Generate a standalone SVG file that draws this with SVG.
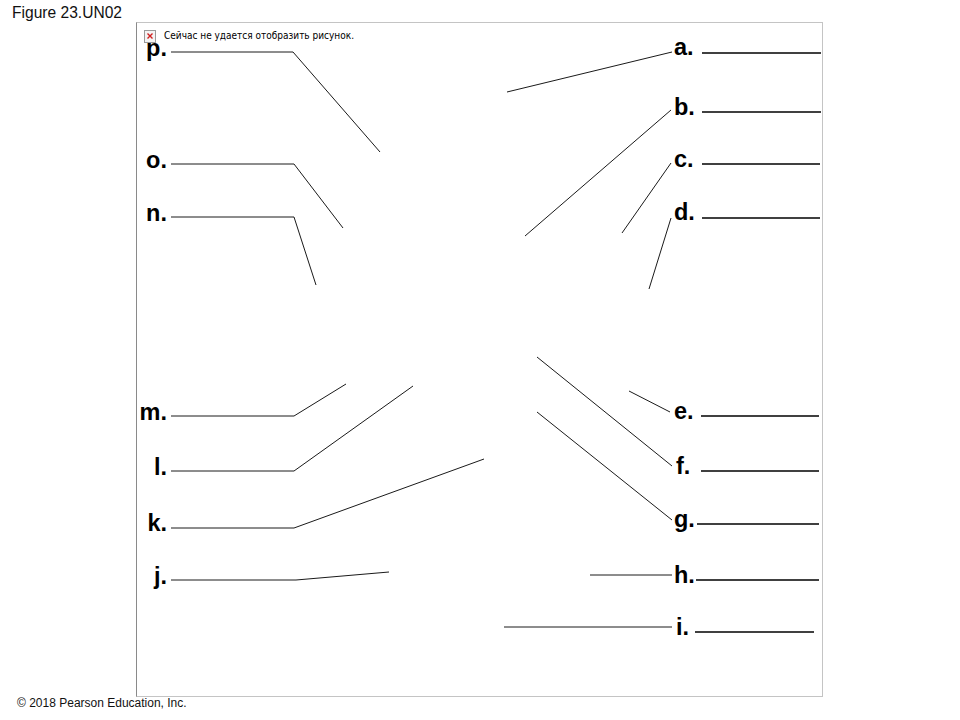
<svg xmlns="http://www.w3.org/2000/svg" width="960" height="720" viewBox="0 0 960 720">
<style>
.lbl{font-family:"Liberation Sans",Arial,sans-serif;font-weight:bold;font-size:23.5px;fill:#000}
.l{text-anchor:end}
.ul{stroke:#000;stroke-width:1.3;fill:none}
.ld{stroke:#1a1a1a;stroke-width:1;fill:none}
.cap{font-family:"Liberation Sans",Arial,sans-serif;fill:#111}
</style>
<rect width="960" height="720" fill="#fff"/>
<text class="cap" x="12" y="18" font-size="16" textLength="110" lengthAdjust="spacingAndGlyphs">Figure 23.UN02</text>
<text class="cap" x="17" y="707" font-size="12">© 2018 Pearson Education, Inc.</text>
<g id="frame">
<rect x="136.5" y="22.5" width="686" height="674" fill="none" stroke="#c4c4c4" stroke-width="1"/>
<line x1="136.5" y1="22.5" x2="136.5" y2="696.5" stroke="#8a8a8a" stroke-width="1"/>
</g>
<g id="broken-image">
<rect x="144.5" y="30.5" width="11" height="12" fill="#f4f4f4" stroke="#9a9a9a"/>
<path d="M147.5 33.5l5 5M152.5 33.5l-5 5" stroke="#d02020" stroke-width="1.4"/>
<text x="164" y="39" font-family="Tahoma,'DejaVu Sans',sans-serif" font-size="10.5" fill="#000" textLength="190" lengthAdjust="spacingAndGlyphs">Сейчас не удается отобразить рисунок.</text>
</g>
<g id="connectors">
<polyline class="ld" points="171,52 293,52 380,152"/>
<polyline class="ld" points="171,164 294,164 343,228"/>
<polyline class="ld" points="171,217 294,217 316,285"/>
<polyline class="ld" points="171,416 294,416 346,384"/>
<polyline class="ld" points="171,471 294,471 413,386"/>
<polyline class="ld" points="171,528 294,528 484,459"/>
<polyline class="ld" points="171,580 296,580 389,572"/>
<line class="ld" x1="672" y1="52" x2="507" y2="92"/>
<line class="ld" x1="671" y1="110" x2="525" y2="236"/>
<line class="ld" x1="671" y1="163" x2="622" y2="233"/>
<line class="ld" x1="671" y1="218" x2="649" y2="289"/>
<line class="ld" x1="670" y1="412" x2="629" y2="391"/>
<line class="ld" x1="672" y1="466" x2="537" y2="357"/>
<line class="ld" x1="672" y1="520" x2="537" y2="412"/>
<line class="ld" x1="590" y1="575" x2="672" y2="575"/>
<line class="ld" x1="504" y1="627" x2="672" y2="627"/>
</g>
<g id="p"><text class="lbl l" x="167" y="56">p.</text></g>
<g id="o"><text class="lbl l" x="167" y="168">o.</text></g>
<g id="n"><text class="lbl l" x="167" y="221">n.</text></g>
<g id="m"><text class="lbl l" x="167" y="420">m.</text></g>
<g id="l"><text class="lbl l" x="167" y="475">l.</text></g>
<g id="k"><text class="lbl l" x="167" y="531">k.</text></g>
<g id="j"><text class="lbl l" x="167" y="584">j.</text></g>
<g id="a"><text class="lbl" x="674" y="55">a.</text><line class="ul" x1="702" y1="53" x2="821" y2="53"/></g>
<g id="b"><text class="lbl" x="674" y="115">b.</text><line class="ul" x1="702" y1="112" x2="821" y2="112"/></g>
<g id="c"><text class="lbl" x="674" y="167">c.</text><line class="ul" x1="702" y1="164" x2="820" y2="164"/></g>
<g id="d"><text class="lbl" x="674" y="220">d.</text><line class="ul" x1="702" y1="218" x2="820" y2="218"/></g>
<g id="e"><text class="lbl" x="674" y="419">e.</text><line class="ul" x1="701" y1="416" x2="819" y2="416"/></g>
<g id="f"><text class="lbl" x="676" y="474">f.</text><line class="ul" x1="701" y1="471" x2="819" y2="471"/></g>
<g id="g"><text class="lbl" x="674" y="527">g.</text><line class="ul" x1="697" y1="524" x2="819" y2="524"/></g>
<g id="h"><text class="lbl" x="674" y="583">h.</text><line class="ul" x1="696" y1="580" x2="819" y2="580"/></g>
<g id="i"><text class="lbl" x="676" y="635">i.</text><line class="ul" x1="695" y1="632" x2="814" y2="632"/></g>
</svg>
